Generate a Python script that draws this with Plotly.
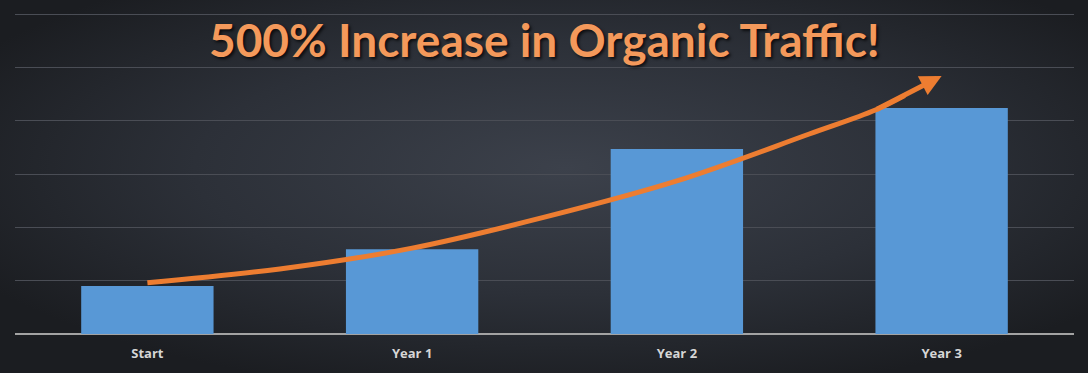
import plotly.graph_objects as go

# ---- data ----
categories = ["Start", "Year 1", "Year 2", "Year 3"]
traffic = [0.90, 1.59, 3.47, 4.24]
title_text = "500% Increase in Organic Traffic!"
grid_values = [0, 1, 2, 3, 4, 5, 6]

# trend arrow path (x in category index units, y in value units)
arrow_x = [0, 0.5, 1, 1.5, 2, 2.5, 2.75, 2.86]
arrow_y = [0.96, 1.22, 1.61, 2.19, 2.87, 3.75, 4.20, 4.47]
arrow_tip = (3.0, 4.84)

W, H = 1088, 373
ML, MR, MT, MB = 15, 14, 9, 39
Y_TOP = 6.094

bg_svg = (
    "data:image/svg+xml;utf8,"
    "<svg xmlns='http://www.w3.org/2000/svg' width='1088' height='373' preserveAspectRatio='none'>"
    "<defs><radialGradient id='g' cx='52%' cy='45%' r='62%'>"
    "<stop offset='0' stop-color='%233c414b'/>"
    "<stop offset='0.55' stop-color='%232c3038'/>"
    "<stop offset='1' stop-color='%231b1d21'/>"
    "</radialGradient></defs>"
    "<rect width='1088' height='373' fill='url(%23g)'/></svg>"
)

fig = go.Figure()

fig.add_trace(go.Bar(
    x=list(range(len(categories))),
    y=traffic,
    width=0.5,
    marker=dict(color="#5898d6", line=dict(width=0)),
    hoverinfo="skip",
))

fig.add_trace(go.Scatter(
    x=arrow_x,
    y=arrow_y,
    mode="lines",
    line=dict(color="#ed7d31", width=5, shape="spline"),
    hoverinfo="skip",
))

fig.add_annotation(
    x=arrow_tip[0], y=arrow_tip[1], xref="x", yref="y",
    ax=arrow_x[-2], ay=arrow_y[-2], axref="x", ayref="y",
    showarrow=True, arrowhead=2, arrowsize=0.85, arrowwidth=5,
    arrowcolor="#ed7d31", text="",
)

fig.add_annotation(
    x=0.5, xref="paper", y=5.52, yref="y",
    text=title_text, showarrow=False,
    font=dict(family="Lato", size=46, color="#f4995b", weight="bold",
              shadow="2px 2px 3px rgba(0,0,0,0.7)"),
    xanchor="center", yanchor="middle",
)

pw = W - ML - MR
ph = H - MT - MB
fig.add_layout_image(dict(
    source=bg_svg, xref="paper", yref="paper",
    x=-ML / pw, y=1 + MT / ph, sizex=W / pw, sizey=H / ph,
    sizing="stretch", layer="below", xanchor="left", yanchor="top",
))

fig.update_layout(
    width=W, height=H,
    margin=dict(l=ML, r=MR, t=MT, b=MB),
    paper_bgcolor="#1f2126",
    plot_bgcolor="rgba(0,0,0,0)",
    showlegend=False,
    xaxis=dict(
        range=[-0.5, 3.5],
        tickvals=list(range(len(categories))),
        ticktext=categories,
        showgrid=False, zeroline=False, showline=False,
        ticks="", ticklen=0, ticklabelstandoff=10,
        tickfont=dict(family="Open Sans", size=13, color="#d6d6d6", weight="bold"),
    ),
    yaxis=dict(
        range=[0, Y_TOP], tickmode="array", tickvals=grid_values,
        showticklabels=False,
        showgrid=True, gridcolor="#4a4d55", gridwidth=1,
        zeroline=True, zerolinecolor="#a3a3a3", zerolinewidth=1.5,
        showline=False,
    ),
)

fig.write_html(
    "out.html",
    config={"displayModeBar": False},
    post_script="document.body.style.margin='0';document.body.style.overflow='hidden';",
)
